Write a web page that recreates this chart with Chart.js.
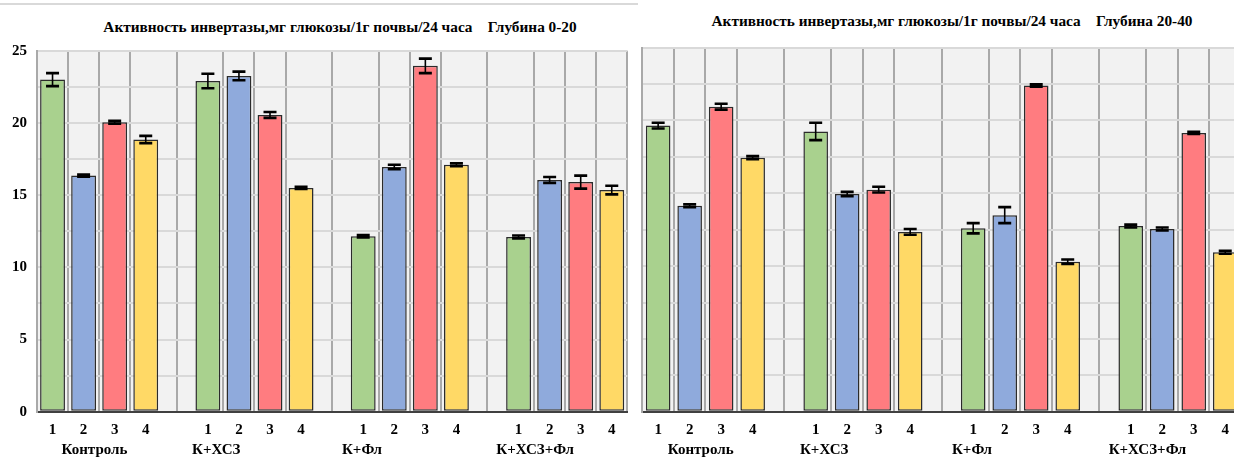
<!DOCTYPE html>
<html>
<head>
<meta charset="utf-8">
<script src="https://cdn.jsdelivr.net/npm/chart.js@4/dist/chart.umd.min.js"></script>
<style>
  html, body { margin: 0; padding: 0; background: #fff; }
  body { width: 1234px; height: 457px; overflow: hidden; position: relative; }
  .frame-line { position: absolute; left: 0; top: 3px; width: 638px; height: 2px; background: #d9d9d9; }
  .title {
    position: absolute; width: 600px; text-align: center; white-space: pre;
    font-family: "Liberation Serif", "Times New Roman", serif;
    font-weight: bold; font-size: 15.3px; color: #000;
  }
  #title-top { left: 40px; top: 18px; }
  #title-deep { left: 652px; top: 12px; }
  canvas { position: absolute; top: 0; }
  #chart-top { left: 0; }
  #chart-deep { left: 640px; }
</style>
</head>
<body>
<div class="frame-line"></div>
<div class="title" id="title-top">Активность инвертазы,мг глюкозы/1г почвы/24 часа    Глубина 0-20</div>
<div class="title" id="title-deep">Активность инвертазы,мг глюкозы/1г почвы/24 часа    Глубина 20-40</div>
<canvas id="chart-top" width="640" height="457"></canvas>
<canvas id="chart-deep" width="601" height="457"></canvas>

<script>
'use strict';

// ── Data ───────────────────────────────────────────────────────────────────
const groups   = ['Контроль', 'К+ХСЗ', 'К+Фл', 'К+ХСЗ+Фл'];
const variants = ['1', '2', '3', '4'];

// depth 0-20 cm, 4 variants per group
const top20    = [23.0, 16.35, 20.05, 18.85,  22.9, 23.25, 20.55, 15.5,  12.15, 16.95, 23.95, 17.1,  12.1, 16.05, 15.9, 15.35];
const top20Err = [0.45, 0.08,  0.1,   0.25,   0.5,  0.3,   0.2,   0.08,  0.08,  0.15,  0.5,   0.1,   0.1,  0.2,   0.45, 0.3];

// depth 20-40 cm
const deep40    = [19.65, 14.15, 20.95, 17.45,  19.25, 14.95, 15.25, 12.35,  12.6, 13.5, 22.4, 10.3,  12.75, 12.55, 19.15, 10.95];
const deep40Err = [0.2,   0.1,   0.2,   0.1,    0.6,   0.15,  0.2,   0.2,    0.35, 0.55, 0.08, 0.15,  0.1,   0.1,   0.08,  0.1];

const yTicks = { min: 0, max: 25, step: 2.5, labelEvery: 5 };

// ── Look ───────────────────────────────────────────────────────────────────
const FONT = '"Liberation Serif", "Times New Roman", serif';
const variantColors = ['#a9d18e', '#8faadc', '#ff7c80', '#ffd966'];
// where the group captions sit, in category index units
const groupLabelAt = [1.35, 5.27, 9.96, 15.53];

// groups of 4 bars separated by one empty slot
function slots(arr) {
  const out = [];
  groups.forEach((g, gi) => {
    variants.forEach((v, vi) => out.push(arr[gi * variants.length + vi]));
    if (gi < groups.length - 1) out.push(null);
  });
  return out;
}

const slotLabels = slots(groups.flatMap(() => variants));
const slotColors = slots(groups.flatMap(() => variantColors)).map(c => c || 'transparent');

// ── Plugins ────────────────────────────────────────────────────────────────
const plotBg = {
  id: 'plotBg',
  beforeDraw(chart) {
    const { ctx, chartArea: a } = chart;
    ctx.save();
    ctx.fillStyle = '#f2f2f2';
    ctx.fillRect(a.left, a.top, a.right - a.left, a.bottom - a.top);
    ctx.restore();
  },
};

const errorBars = {
  id: 'errorBars',
  afterDatasetsDraw(chart) {
    const { ctx } = chart;
    const y = chart.scales.y;
    const ds = chart.data.datasets[0];
    const meta = chart.getDatasetMeta(0);
    ctx.save();
    ctx.strokeStyle = '#000';
    meta.data.forEach((bar, i) => {
      const v = ds.data[i];
      const e = ds.errors[i];
      if (v == null || e == null) return;
      const yHi = y.getPixelForValue(v + e);
      const yLo = y.getPixelForValue(v - e);
      const half = 6.5;
      ctx.lineWidth = 1.6;
      ctx.beginPath();
      ctx.moveTo(bar.x, yHi);
      ctx.lineTo(bar.x, yLo);
      ctx.stroke();
      ctx.lineWidth = 2.6;
      ctx.beginPath();
      ctx.moveTo(bar.x - half, yHi); ctx.lineTo(bar.x + half, yHi);
      ctx.moveTo(bar.x - half, yLo); ctx.lineTo(bar.x + half, yLo);
      ctx.stroke();
    });
    ctx.restore();
  },
};

// ── Charts ─────────────────────────────────────────────────────────────────
function makeChart(id, values, errors, opt) {
  const font = { family: FONT, size: 15, weight: 'bold' };
  return new Chart(document.getElementById(id), {
    type: 'bar',
    data: {
      labels: slotLabels,
      datasets: [{
        data: slots(values),
        errors: slots(errors),
        backgroundColor: slotColors,
        borderColor: '#2b2b2b',
        borderWidth: 1.5,
        borderSkipped: false,
        barPercentage: opt.barPct,
        categoryPercentage: 1,
      }],
    },
    options: {
      responsive: false,
      animation: false,
      devicePixelRatio: 1,
      layout: { padding: { top: opt.top, right: opt.right, left: 0, bottom: 0 } },
      plugins: {
        legend: { display: false },
        tooltip: { enabled: false },
        title: { display: false },
      },
      scales: {
        x: {
          type: 'category',
          position: 'bottom',
          weight: 0,
          grid: { offset: true, color: '#a9a9a9', lineWidth: 2, drawTicks: false },
          border: { color: '#404040', width: 2 },
          ticks: { color: '#000', font, padding: 9, autoSkip: false, maxRotation: 0 },
          afterFit: s => { s.height = 27; },
        },
        groups: {
          type: 'linear',
          position: 'bottom',
          weight: 1,
          offset: false,
          min: -0.5,
          max: slotLabels.length - 0.5,
          grid: { display: false, drawTicks: false },
          border: { display: false },
          afterBuildTicks: s => { s.ticks = groupLabelAt.map(v => ({ value: v })); },
          ticks: {
            color: '#000', font, padding: 2, autoSkip: false, maxRotation: 0,
            callback: (v, i) => groups[i],
          },
          afterFit: s => { s.height = 457 - 411.7 - 27; },
        },
        y: {
          min: yTicks.min,
          max: yTicks.max,
          grid: { color: '#d9d9d9', lineWidth: 2, drawTicks: false },
          border: { color: '#a9a9a9', width: 2 },
          ticks: {
            display: opt.showY,
            stepSize: yTicks.step,
            color: '#000', font, padding: 10,
            callback: v => (v % yTicks.labelEvery === 0 ? v : ''),
          },
          afterFit: s => { s.width = opt.yWidth; },
        },
      },
    },
    plugins: [plotBg, errorBars],
  });
}

makeChart('chart-top',  top20,  top20Err,  { top: 50.7, right: 12.7, yWidth: 37,  showY: true,  barPct: 0.8 });
makeChart('chart-deep', deep40, deep40Err, { top: 47.7, right: 0,    yWidth: 2.4, showY: false, barPct: 0.78 });
</script>
</body>
</html>
